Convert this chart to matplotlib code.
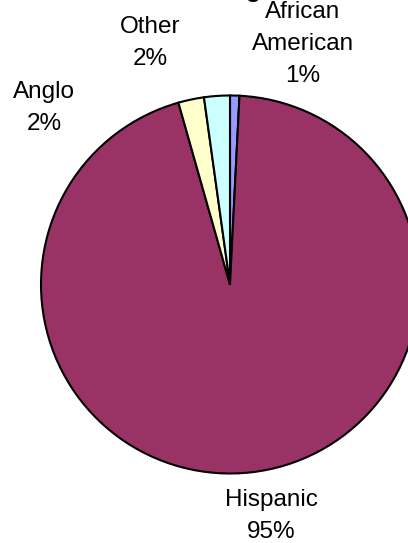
import matplotlib
matplotlib.use("Agg")
import matplotlib.pyplot as plt

# data (clockwise from 12 o'clock)
groups = ["African\nAmerican", "Hispanic", "Anglo", "Other"]
shares = [0.8, 94.8, 2.2, 2.2]
pct_labels = ["1%", "95%", "2%", "2%"]
colors = ["#9999FF", "#993366", "#FFFFCC", "#CCFFFF"]

# label anchors in pixels (x centre, first baseline from top)
label_pos = [(303, 18), (271, 506), (44, 98), (150, 33)]

W, H = 408, 543
plt.rcParams["font.family"] = ["Liberation Sans", "DejaVu Sans"]

fig = plt.figure(figsize=(W / 100, H / 100), dpi=100)
ax = fig.add_axes([0, 0, 1, 1])

ax.pie(shares, colors=colors, startangle=90, counterclock=False,
       center=(230, H - 284.5), radius=189, frame=True,
       wedgeprops=dict(edgecolor="black", linewidth=1.5))
ax.set_xlim(0, W)
ax.set_ylim(0, H)
ax.set_aspect("auto")
ax.axis("off")

pitch = 32
for name, pct, (x, y0) in zip(groups, pct_labels, label_pos):
    lines = name.split("\n") + [pct]
    for i, line in enumerate(lines):
        ax.text(x, H - (y0 + i * pitch), line, ha="center", va="baseline",
                fontsize=17.5, color="black")

# clipped bit of the title above the canvas
ax.text(253, H + 3, "g", ha="center", va="baseline", fontsize=17.5,
        fontweight="bold", clip_on=False)

fig.savefig("out.png", dpi=100)
